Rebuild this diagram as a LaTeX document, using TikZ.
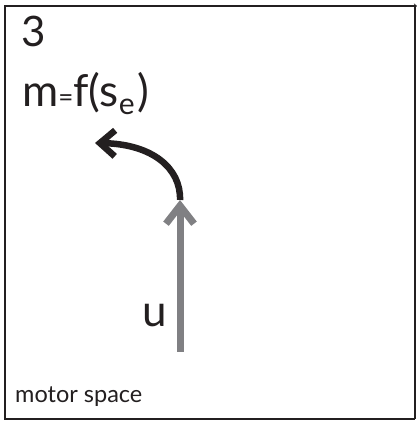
\documentclass[tikz,border=0pt]{standalone}
\usepackage{fontspec}
\setmainfont{Lato}
\usetikzlibrary{arrows.meta}
\definecolor{ink}{HTML}{231F20}
\definecolor{grayarrow}{HTML}{808083}
\tikzset{
  lbl/.style={anchor=base west, inner sep=0pt, text=ink},
  framebox/.style={draw=ink, line width=2.4pt},
}
\begin{document}
\begin{tikzpicture}[x=1pt,y=1pt]
\useasboundingbox (0,0) rectangle (417,423);
% frame
\coordinate (tl) at (5,417);
\coordinate (tr) at (415,417);
\coordinate (br) at (415,4);
\coordinate (bl) at (5,4);
\coordinate (tip) at (417,417);
\draw[framebox] (tr) -- (tl) -- (bl) -- (br);
\draw[draw=ink, line width=1.2pt] (br) -- (tr);
\draw[draw=ink, line width=2pt, -{Stealth[length=3pt,width=5pt]}] (tl) -- (tip);
% texts
\node[lbl, font=\fontsize{42}{42}\selectfont] (num) at (21,376) {3};
\node[lbl, font=\fontsize{44}{44}\selectfont] (eq) at (22,316) {m{\fontsize{26}{26}\selectfont=}f(s\raisebox{-8pt}{\fontsize{30}{30}\selectfont e}\hspace{3pt})};
\node[lbl, font=\fontsize{44}{44}\selectfont] (u) at (142,96) {u};
\node[lbl, font=\fontsize{23.5}{23.5}\selectfont] (ms) at (15,20) {motor space};
% arrows
\coordinate (ubot) at (180,71);
\coordinate (utop) at (180,223);
\coordinate (mend) at (95,280);
\draw[grayarrow, line width=7pt, -{Straight Barb[length=18pt,width=28pt,line width=7pt]}] (ubot) -- (utop);
\draw[ink, line width=6.5pt, -{Straight Barb[length=15pt,width=26pt,line width=6.5pt]}] (utop) .. controls (181,255) and (152,279) .. (mend);
\end{tikzpicture}
\end{document}
